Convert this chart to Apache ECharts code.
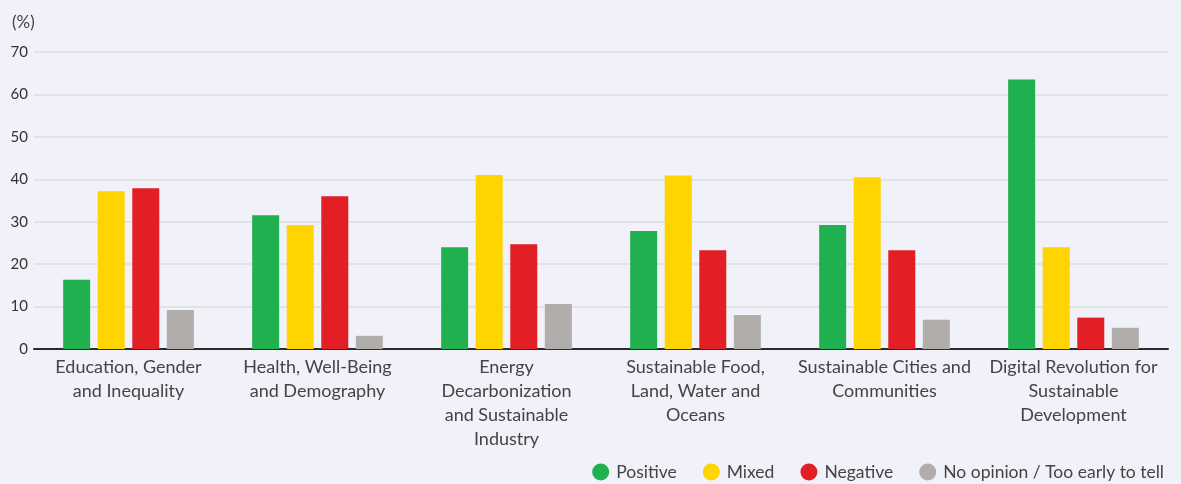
<!DOCTYPE html>
<html>
<head>
<meta charset="utf-8">
<script src="https://cdn.jsdelivr.net/npm/echarts@6/dist/echarts.min.js"></script>
<style>
  html, body { margin: 0; padding: 0; background: #f0f1f9; }
  #chart { width: 1181px; height: 484px; }
</style>
</head>
<body>
<div id="chart"></div>
<script>
// Survey topics (wrapped as shown under the axis)
const categories = [
  'Education, Gender\nand Inequality',
  'Health, Well-Being\nand Demography',
  'Energy\nDecarbonization\nand Sustainable\nIndustry',
  'Sustainable Food,\nLand, Water and\nOceans',
  'Sustainable Cities and\nCommunities',
  'Digital Revolution for\nSustainable\nDevelopment'
];

// Share of responses per topic (%)
const positive  = [16.3, 31.5, 24.0, 27.8, 29.2, 63.5];
const mixed     = [37.2, 29.2, 41.0, 40.9, 40.5, 24.0];
const negative  = [37.9, 36.0, 24.7, 23.3, 23.3, 7.4];
const noOpinion = [9.2, 3.1, 10.6, 8.0, 6.9, 5.0];

const seriesNames = ['Positive', 'Mixed', 'Negative', 'No opinion / Too early to tell'];
const seriesColors = ['#21b04f', '#ffd400', '#e31f26', '#b0adab'];
const seriesData = [positive, mixed, negative, noOpinion];

const FONT = 'Lato, "Open Sans", sans-serif';

const chart = echarts.init(document.getElementById('chart'), null, { renderer: 'canvas' });

chart.setOption({
  backgroundColor: '#f0f1f9',
  animation: false,
  title: {
    text: '(%)',
    left: 7,
    top: 9,
    textStyle: { fontFamily: FONT, fontSize: 17, fontWeight: 'normal', color: '#444' }
  },
  legend: {
    right: 12,
    top: 458,
    icon: 'circle',
    itemWidth: 17,
    itemHeight: 17,
    itemGap: 26,
    textStyle: { fontFamily: FONT, fontSize: 17.5, color: '#444', padding: [0, 0, 0, 2] },
    data: seriesNames
  },
  grid: { left: 34, right: 13, top: 52, bottom: 135, containLabel: false },
  xAxis: {
    type: 'category',
    data: categories,
    axisLine: { lineStyle: { color: '#2b2b2b', width: 2 } },
    axisTick: { show: false },
    axisLabel: {
      interval: 0,
      margin: 6,
      fontFamily: FONT,
      fontSize: 18,
      lineHeight: 24,
      color: '#444'
    }
  },
  yAxis: {
    type: 'value',
    min: 0,
    max: 70,
    interval: 10,
    axisLine: { show: false },
    axisTick: { show: false },
    axisLabel: { fontFamily: FONT, fontSize: 15, color: '#333', margin: 6 },
    splitLine: { lineStyle: { color: '#dcdcdc', width: 1.5 } }
  },
  series: seriesNames.map((name, i) => ({
    name,
    type: 'bar',
    data: seriesData[i],
    barWidth: 27,
    barGap: '28%',
    itemStyle: { color: seriesColors[i] }
  }))
});
</script>
</body>
</html>
